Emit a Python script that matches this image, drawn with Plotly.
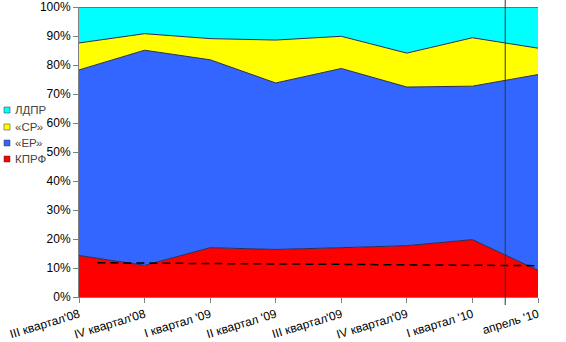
import plotly.graph_objects as go

# Quarterly party ratings (percent of respondents)
periods = ["III квартал'08", "IV квартал'08", "I квартал '09", "II квартал '09",
           "III квартал'09", "IV квартал'09", "I квартал '10", "апрель '10"]
kprf = [14.3, 10.9, 17.0, 16.4, 17.0, 17.7, 19.8, 9.2]
er = [64.0, 74.2, 64.8, 57.4, 61.8, 54.7, 52.9, 67.5]
sr = [9.3, 5.7, 7.3, 14.8, 11.1, 11.7, 16.7, 9.1]
ldpr = [12.4, 9.2, 10.9, 11.4, 10.1, 15.9, 10.6, 14.2]

series_names = ["КПРФ", "«ЕР»", "«СР»", "ЛДПР"]
series_values = [kprf, er, sr, ldpr]
series_colors = ["#FF0000", "#3366FF", "#FFFF00", "#00FFFF"]

# Dashed reference level for КПРФ
ref_x = [0.28, 7]
ref_y = [11.8, 10.8]

# Split between quarterly data and the monthly point
split_x = 6.5

y_ticks = list(range(0, 101, 10))
x_pos = list(range(len(periods)))

# Plot area in pixels (566x342 canvas)
L, R, T, B = 79, 538, 7, 297
W, H = 566, 342


def px_x(p):
    return (p - L) / (R - L)


def px_y(p):
    return (B - p) / (B - T)


fig = go.Figure()
for name, vals, col in zip(series_names, series_values, series_colors):
    fig.add_trace(go.Scatter(
        x=x_pos, y=vals, name=name, mode="lines",
        stackgroup="one", groupnorm="percent",
        line=dict(color="#2a2a50", width=1), fillcolor=col,
        showlegend=False,
    ))

fig.add_trace(go.Scatter(
    x=ref_x, y=ref_y, mode="lines",
    line=dict(color="black", width=1.5, dash="8px,5px"),
    showlegend=False,
))

shapes = [dict(type="line", xref="x", yref="paper", x0=split_x, x1=split_x,
               y0=px_y(305), y1=px_y(0), line=dict(color="#333333", width=1))]
annotations = []

# Legend drawn at the left of the value axis
leg_rows = [110, 127, 143, 159]
for row, name, col in zip(leg_rows, series_names[::-1], series_colors[::-1]):
    shapes.append(dict(type="rect", xref="paper", yref="paper",
                       x0=px_x(4), x1=px_x(10), y0=px_y(row + 3), y1=px_y(row - 3),
                       fillcolor=col, line=dict(color="#333333", width=0.5)))
    annotations.append(dict(xref="paper", yref="paper", x=px_x(13), y=px_y(row),
                            text=name, showarrow=False, xanchor="left", yanchor="middle",
                            font=dict(size=11.5, color="#444444")))

fig.update_layout(
    width=W, height=H,
    margin=dict(l=L, r=W - R, t=T, b=H - B),
    plot_bgcolor="white", paper_bgcolor="white",
    font=dict(family="Liberation Sans, Arial", size=12, color="black"),
    shapes=shapes, annotations=annotations,
    showlegend=False,
)
fig.update_xaxes(
    range=[0, 7], tickvals=x_pos, ticktext=periods, tickangle=-17,
    showgrid=False, zeroline=False, showline=True, linecolor="#808080",
    ticks="outside", ticklen=5, tickcolor="#808080",
    tickfont=dict(size=12), automargin=False,
)
fig.update_yaxes(
    range=[0, 100], tickvals=y_ticks, ticktext=[f"{v}%" for v in y_ticks],
    showgrid=False, zeroline=False, showline=True, linecolor="#808080",
    ticks="outside", ticklen=5, tickcolor="#808080",
    tickfont=dict(size=12), ticklabeloverflow="allow", automargin=False,
)

fig.write_html("out.html")
